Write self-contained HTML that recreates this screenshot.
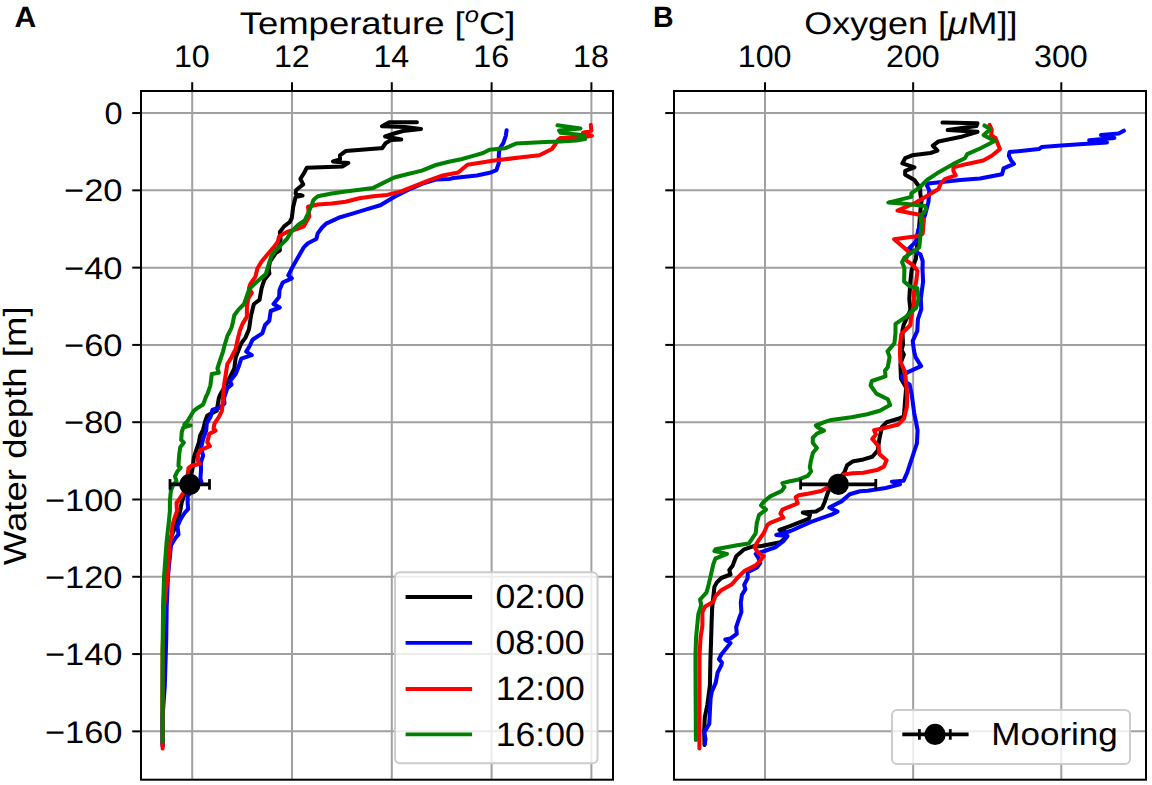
<!DOCTYPE html><html><head><meta charset="utf-8"><title>Temperature and oxygen profiles</title><style>html,body{margin:0;padding:0;background:#fff;overflow:hidden}svg{display:block}text{font-family:"Liberation Sans",sans-serif;fill:#000;text-rendering:geometricPrecision}</style></head><body>
<svg width="1152" height="785" viewBox="0 0 1152 785">
<rect width="1152" height="785" fill="#fff"/>
<defs><clipPath id="cl"><rect x="141" y="91" width="472" height="688.7"/></clipPath><clipPath id="cr"><rect x="674" y="91" width="472" height="688.7"/></clipPath></defs>
<g stroke="#a0a0a0" stroke-width="2" clip-path="url(#cl)"><line x1="192.20" y1="91" x2="192.20" y2="779.7"/><line x1="292.00" y1="91" x2="292.00" y2="779.7"/><line x1="391.80" y1="91" x2="391.80" y2="779.7"/><line x1="491.60" y1="91" x2="491.60" y2="779.7"/><line x1="591.40" y1="91" x2="591.40" y2="779.7"/><line x1="141" y1="113.05" x2="613" y2="113.05"/><line x1="141" y1="190.34" x2="613" y2="190.34"/><line x1="141" y1="267.63" x2="613" y2="267.63"/><line x1="141" y1="344.91" x2="613" y2="344.91"/><line x1="141" y1="422.20" x2="613" y2="422.20"/><line x1="141" y1="499.49" x2="613" y2="499.49"/><line x1="141" y1="576.78" x2="613" y2="576.78"/><line x1="141" y1="654.07" x2="613" y2="654.07"/><line x1="141" y1="731.35" x2="613" y2="731.35"/></g>
<g stroke="#a0a0a0" stroke-width="2" clip-path="url(#cr)"><line x1="765.00" y1="91" x2="765.00" y2="779.7"/><line x1="913.15" y1="91" x2="913.15" y2="779.7"/><line x1="1061.30" y1="91" x2="1061.30" y2="779.7"/><line x1="674" y1="113.05" x2="1146" y2="113.05"/><line x1="674" y1="190.34" x2="1146" y2="190.34"/><line x1="674" y1="267.63" x2="1146" y2="267.63"/><line x1="674" y1="344.91" x2="1146" y2="344.91"/><line x1="674" y1="422.20" x2="1146" y2="422.20"/><line x1="674" y1="499.49" x2="1146" y2="499.49"/><line x1="674" y1="576.78" x2="1146" y2="576.78"/><line x1="674" y1="654.07" x2="1146" y2="654.07"/><line x1="674" y1="731.35" x2="1146" y2="731.35"/></g>
<g fill="none" stroke-width="4.05" stroke-linejoin="round" stroke-linecap="round" clip-path="url(#cl)">
<polyline stroke="#000" points="416.9,122.3 389.3,122.3 382.0,126.2 405.0,127.0 421.0,129.1 403.0,131.0 395.0,133.2 385.1,136.4 401.2,139.5 391.1,139.9 385.6,143.3 382.1,148.2 380.3,148.3 345.6,151.1 340.0,155.3 340.0,159.4 333.0,161.5 348.3,162.9 342.8,166.4 306.7,167.8 303.9,173.3 300.4,178.9 303.2,184.4 296.2,190.0 295.6,193.5 302.5,195.6 295.6,197.0 293.2,206.8 291.8,218.0 289.7,222.2 284.1,226.4 279.9,232.0 280.6,239.0 279.2,244.6 279.9,250.2 275.7,253.0 270.0,261.5 268.7,268.5 269.4,273.4 264.4,279.7 261.6,288.1 259.5,299.8 253.9,304.0 251.1,315.2 249.0,329.2 245.5,337.6 241.3,343.2 238.5,350.2 235.7,357.2 234.3,368.5 230.1,376.9 224.0,388.0 220.0,395.0 218.8,398.3 216.7,410.8 212.5,412.9 207.3,415.5 205.2,421.2 203.1,429.6 200.0,435.8 199.0,442.1 196.9,448.3 193.8,457.7 192.8,467.1 191.8,472.2 188.0,484.0 183.6,496.7 181.6,502.8 180.6,508.9 179.6,513.0 176.0,525.0 172.0,535.0 168.0,545.0 166.0,560.0 164.5,580.0 163.5,610.0 163.0,650.0 162.6,700.0 162.6,746.0"/>
<polyline stroke="#0000ff" points="506.6,130.3 505.8,135.8 503.4,142.8 499.5,149.0 498.8,155.3 498.8,163.1 496.4,170.2 490.9,172.5 476.9,175.6 453.4,178.0 450.0,178.9 435.8,179.6 421.9,183.8 408.0,190.0 394.2,196.9 380.3,205.3 366.4,209.4 352.5,213.6 338.6,217.8 326.1,223.6 321.9,227.8 317.7,233.4 316.3,239.0 307.9,243.2 303.7,247.4 298.1,257.3 292.5,267.1 288.3,275.5 291.8,278.3 282.7,282.5 279.5,290.0 279.1,297.0 273.5,304.0 279.8,307.5 270.7,311.0 269.3,320.8 265.1,325.0 262.3,333.4 252.5,339.7 249.7,346.0 246.2,351.6 251.8,355.1 241.3,358.7 238.5,367.1 235.7,374.1 230.1,381.1 231.5,384.6 227.3,388.1 224.0,398.3 224.5,403.5 219.8,407.7 212.5,409.8 210.4,417.1 206.8,423.3 206.2,430.6 203.1,439.0 201.0,448.3 203.1,455.6 201.0,462.0 201.0,470.2 200.4,478.3 201.5,482.4 194.0,490.0 187.7,495.7 187.7,503.8 188.2,508.9 184.6,513.0 180.6,519.1 177.5,526.2 178.5,534.4 175.5,538.0 171.0,545.3 168.0,575.9 166.7,606.5 166.2,640.0 164.8,685.8 162.6,716.0 162.6,745.0"/>
<polyline stroke="#ff0000" points="590.8,124.9 591.4,130.6 583.0,132.7 591.9,135.8 581.5,137.4 560.6,137.9 558.0,140.0 555.4,144.2 551.9,149.0 539.4,155.3 523.8,156.9 492.5,160.8 467.5,164.7 458.1,172.5 442.8,175.4 428.9,180.3 415.0,185.8 401.1,191.4 387.2,194.9 373.3,196.2 359.4,198.3 345.6,201.8 331.7,203.6 317.8,204.6 308.0,206.7 309.3,216.6 303.7,226.4 298.1,228.5 286.9,232.0 279.2,236.2 277.8,241.8 273.6,247.4 268.7,253.0 261.6,261.5 257.4,268.5 255.3,276.9 250.4,283.9 249.0,288.1 251.8,293.0 248.3,298.4 246.9,306.8 246.9,316.6 242.7,323.6 239.9,330.6 237.8,339.0 235.7,348.8 231.5,357.2 227.3,364.3 225.8,374.1 224.4,382.5 223.5,390.0 222.9,400.4 221.9,410.8 218.8,417.1 214.6,423.3 213.5,428.5 215.6,430.6 209.4,433.8 207.3,442.1 209.9,446.2 201.0,449.9 197.9,454.6 197.9,460.8 200.0,464.0 191.7,465.5 188.5,468.1 187.7,475.3 185.5,484.0 183.6,492.6 179.6,498.7 176.5,502.8 177.0,511.0 174.5,518.1 172.4,525.2 171.9,533.4 169.5,545.3 167.7,575.9 164.1,606.5 162.6,650.0 162.6,748.5"/>
<polyline stroke="#008000" points="557.5,125.2 580.4,128.5 559.1,130.6 560.6,132.7 583.5,135.3 585.1,139.0 576.2,140.5 560.6,141.6 545.0,142.1 515.9,143.6 505.0,148.3 489.4,149.8 483.1,153.0 472.2,156.1 461.2,159.2 450.0,161.5 435.8,165.0 421.9,170.6 408.0,174.0 394.2,177.5 380.3,184.4 373.3,187.9 345.6,191.4 331.7,193.5 317.8,196.2 313.6,199.7 312.1,204.0 307.9,213.8 304.4,220.8 298.1,225.0 291.1,232.0 286.9,239.0 281.3,244.6 275.7,250.2 271.5,255.8 268.7,264.3 265.8,274.1 256.0,282.5 249.3,289.0 244.1,304.0 238.5,309.6 234.3,315.2 232.9,322.2 231.5,327.8 227.3,336.2 224.4,346.0 223.0,351.6 220.2,360.0 217.4,368.5 218.8,372.7 211.8,374.1 210.4,385.3 207.6,393.7 206.2,396.2 203.1,404.6 197.9,407.7 193.8,410.8 190.6,416.0 187.5,421.2 184.4,424.4 190.6,425.4 183.3,427.5 181.8,431.7 181.2,440.0 183.9,442.6 180.2,447.3 179.2,454.6 178.6,462.9 178.5,466.1 180.6,467.6 177.5,471.2 175.0,476.3 176.5,481.4 173.4,484.5 170.9,490.6 169.9,500.8 169.9,511.0 168.9,521.1 167.8,531.3 166.6,542.0 164.1,575.9 163.1,606.5 162.6,650.0 162.6,742.0"/>
</g>
<g fill="none" stroke-width="4.05" stroke-linejoin="round" stroke-linecap="round" clip-path="url(#cr)">
<polyline stroke="#000" points="942.5,122.6 977.5,123.2 976.4,126.1 947.7,130.1 977.5,131.8 962.6,136.4 938.5,141.5 932.8,145.6 937.4,150.7 930.5,153.0 912.1,155.3 905.2,158.2 902.4,163.3 914.4,167.4 905.2,170.8 905.2,174.8 914.4,180.0 920.1,188.0 920.4,194.6 921.6,200.3 920.4,210.6 919.3,224.4 918.2,235.9 917.0,247.3 915.9,258.8 911.6,270.0 910.4,281.5 909.3,298.7 910.4,310.1 903.6,325.0 902.4,330.8 903.0,344.5 901.6,350.0 903.9,354.6 900.4,363.8 901.0,378.7 906.2,387.8 905.0,401.6 903.9,416.5 898.2,418.8 886.7,422.2 882.0,427.0 879.4,438.9 877.7,450.5 872.3,456.8 863.4,459.4 852.4,461.6 847.1,465.2 844.4,472.3 836.0,482.0 828.4,491.0 824.8,501.7 822.1,508.0 815.9,511.6 802.8,512.6 810.0,514.7 808.9,518.7 790.6,525.9 779.4,529.9 784.5,531.0 786.5,537.1 780.4,542.2 760.0,546.3 754.5,545.9 744.2,549.3 736.2,556.2 732.8,565.4 729.3,570.0 730.5,574.5 721.3,578.0 716.7,582.6 714.4,586.9 713.3,597.2 712.1,608.7 711.5,625.9 711.0,643.1 710.4,660.3 709.9,685.5 707.4,704.6 704.8,717.3 704.2,730.1 704.5,745.0"/>
<polyline stroke="#0000ff" points="1123.9,130.7 1118.7,133.6 1101.0,135.1 1114.3,138.0 1089.2,140.3 1106.9,142.5 1083.3,143.9 1061.2,145.4 1042.0,146.9 1039.0,149.1 1009.5,152.1 1008.8,155.7 1011.0,160.2 1013.9,163.9 1003.6,168.3 1002.1,174.2 980.0,178.6 960.3,180.0 928.2,183.4 927.0,185.7 929.3,190.3 928.5,201.5 925.0,215.2 918.2,230.1 915.9,241.6 909.0,248.5 920.4,254.2 922.7,261.1 922.5,270.0 923.1,281.5 920.8,298.7 921.3,309.0 917.9,319.3 917.3,330.8 912.7,341.1 913.9,350.3 915.4,356.9 921.1,366.1 908.5,371.8 901.6,376.4 903.9,381.0 909.6,384.4 911.9,395.9 914.2,413.1 916.5,424.5 917.6,430.3 916.9,443.4 912.4,456.8 907.1,472.8 903.5,480.8 891.9,481.7 900.0,484.4 885.7,488.0 867.8,490.7 860.0,491.2 849.7,494.3 841.5,501.4 829.3,507.5 837.5,511.6 831.4,514.7 811.0,521.8 790.6,531.0 776.3,535.0 787.5,536.1 783.4,541.2 775.3,547.3 766.0,550.5 755.7,553.9 758.0,557.3 760.3,563.1 756.8,567.7 747.7,572.2 747.7,578.0 744.2,584.9 745.4,589.2 741.9,594.9 740.8,602.9 741.4,612.1 738.5,620.1 736.2,627.0 736.8,633.9 730.5,638.5 725.3,639.6 730.5,643.1 725.9,648.8 721.3,654.5 719.0,659.1 721.9,662.6 721.4,665.1 717.6,672.7 715.7,682.9 711.8,691.8 710.6,698.2 709.9,711.0 709.3,723.7 704.2,732.6 705.5,739.0 704.8,744.0"/>
<polyline stroke="#ff0000" points="989.6,124.8 991.8,129.9 991.1,135.1 995.5,138.0 999.9,149.1 991.8,155.7 983.2,160.5 967.2,163.9 953.4,167.4 953.4,170.8 955.7,175.4 945.4,178.8 940.8,183.4 938.5,189.1 927.3,195.7 915.9,202.6 897.5,210.6 919.3,214.7 923.9,219.8 922.7,233.6 918.2,235.9 894.1,239.3 909.0,251.9 905.5,259.9 913.6,265.7 917.5,271.0 916.2,281.5 913.9,292.9 913.9,304.4 911.0,318.2 910.4,325.0 901.3,334.2 900.1,344.5 900.0,355.0 900.4,361.5 905.0,371.8 906.2,384.4 907.3,395.9 906.8,407.3 903.9,418.8 898.2,424.5 884.4,428.0 874.1,430.3 875.9,434.5 872.3,438.9 878.5,446.1 879.4,454.1 886.6,460.3 883.9,466.6 876.8,470.1 863.4,472.8 852.4,473.2 843.5,474.5 835.0,481.0 827.5,487.5 821.2,491.0 807.8,493.7 798.7,495.3 795.7,497.3 797.7,503.4 782.4,509.6 780.4,513.6 783.4,517.7 770.2,522.8 767.2,525.2 763.7,533.3 758.0,541.3 754.5,547.0 758.0,552.8 763.7,556.2 759.1,561.9 755.7,565.4 744.2,571.1 737.3,578.0 731.6,584.6 721.3,590.3 715.5,596.1 713.3,601.8 705.2,606.4 702.4,612.1 702.4,625.9 700.6,637.3 699.5,654.5 699.5,670.0 699.4,748.5"/>
<polyline stroke="#008000" points="984.4,125.5 990.3,129.2 983.7,135.1 994.8,141.0 980.0,148.5 967.2,154.2 964.9,158.2 953.4,163.9 945.4,168.5 937.4,173.1 927.0,180.0 919.0,188.0 911.3,193.4 911.3,196.9 888.3,202.6 904.4,203.8 925.0,206.1 926.2,209.5 920.4,216.4 921.6,224.4 920.4,235.9 919.3,247.3 904.4,257.6 902.1,262.2 904.4,268.0 904.1,281.5 909.3,286.1 917.3,288.3 918.5,298.7 916.2,307.8 910.4,312.4 905.9,317.0 895.5,323.9 895.5,333.1 894.4,343.4 887.5,351.4 889.6,356.9 887.8,367.2 885.0,370.6 885.5,376.4 871.8,381.0 870.6,385.5 876.4,393.6 887.8,399.3 890.1,405.0 879.8,410.8 867.2,414.2 851.5,417.3 831.2,419.9 825.0,421.9 815.9,425.5 817.9,427.5 824.0,430.6 816.9,433.6 812.8,437.7 812.8,442.8 816.9,447.9 812.8,453.0 810.8,461.2 809.8,467.3 811.0,471.4 807.8,475.9 798.9,479.4 790.0,481.2 782.4,483.1 784.5,487.1 781.4,491.2 770.2,496.3 763.1,502.4 761.0,505.5 766.1,509.6 759.1,514.9 756.8,522.9 755.7,533.3 751.1,540.1 748.8,543.6 737.3,545.3 715.5,549.3 714.4,551.0 727.0,553.9 715.5,558.5 713.3,564.2 711.0,574.5 708.1,586.9 706.4,592.6 700.1,599.5 701.2,605.2 698.3,614.4 697.2,625.9 696.1,637.3 695.5,654.5 695.5,670.0 695.9,740.0"/>
</g>
<g stroke="#000" fill="none"><line x1="170" y1="484.4" x2="209.5" y2="484.4" stroke-width="3.7"/><line x1="170" y1="479.09999999999997" x2="170" y2="489.7" stroke-width="2.8"/><line x1="209.5" y1="479.09999999999997" x2="209.5" y2="489.7" stroke-width="2.8"/></g><circle cx="189.9" cy="484.4" r="10.6" fill="#000"/>
<g stroke="#000" fill="none"><line x1="800.6" y1="484.3" x2="875.8" y2="484.3" stroke-width="3.7"/><line x1="800.6" y1="479.0" x2="800.6" y2="489.6" stroke-width="2.8"/><line x1="875.8" y1="479.0" x2="875.8" y2="489.6" stroke-width="2.8"/></g><circle cx="838.4" cy="484.3" r="10.6" fill="#000"/>
<rect x="141" y="91" width="472" height="688.7" fill="none" stroke="#000" stroke-width="2"/>
<rect x="674" y="91" width="472" height="688.7" fill="none" stroke="#000" stroke-width="2"/>
<g stroke="#000" stroke-width="2"><line x1="192.20" y1="91" x2="192.20" y2="82.25"/><line x1="292.00" y1="91" x2="292.00" y2="82.25"/><line x1="391.80" y1="91" x2="391.80" y2="82.25"/><line x1="491.60" y1="91" x2="491.60" y2="82.25"/><line x1="591.40" y1="91" x2="591.40" y2="82.25"/><line x1="765.00" y1="91" x2="765.00" y2="82.25"/><line x1="913.15" y1="91" x2="913.15" y2="82.25"/><line x1="1061.30" y1="91" x2="1061.30" y2="82.25"/><line x1="141" y1="113.05" x2="132.25" y2="113.05"/><line x1="674" y1="113.05" x2="665.25" y2="113.05"/><line x1="141" y1="190.34" x2="132.25" y2="190.34"/><line x1="674" y1="190.34" x2="665.25" y2="190.34"/><line x1="141" y1="267.63" x2="132.25" y2="267.63"/><line x1="674" y1="267.63" x2="665.25" y2="267.63"/><line x1="141" y1="344.91" x2="132.25" y2="344.91"/><line x1="674" y1="344.91" x2="665.25" y2="344.91"/><line x1="141" y1="422.20" x2="132.25" y2="422.20"/><line x1="674" y1="422.20" x2="665.25" y2="422.20"/><line x1="141" y1="499.49" x2="132.25" y2="499.49"/><line x1="674" y1="499.49" x2="665.25" y2="499.49"/><line x1="141" y1="576.78" x2="132.25" y2="576.78"/><line x1="674" y1="576.78" x2="665.25" y2="576.78"/><line x1="141" y1="654.07" x2="132.25" y2="654.07"/><line x1="674" y1="654.07" x2="665.25" y2="654.07"/><line x1="141" y1="731.35" x2="132.25" y2="731.35"/><line x1="674" y1="731.35" x2="665.25" y2="731.35"/></g>
<rect x="395" y="572.2" width="202.5" height="191" rx="5" ry="5" fill="#fff" fill-opacity="0.8" stroke="#cccccc" stroke-width="2"/>
<line x1="405.6" y1="597.0" x2="472.1" y2="597.0" stroke="#000" stroke-width="3.8" stroke-linecap="butt"/>
<line x1="405.6" y1="642.8" x2="472.1" y2="642.8" stroke="#0000ff" stroke-width="3.8" stroke-linecap="butt"/>
<line x1="405.6" y1="689.0" x2="472.1" y2="689.0" stroke="#ff0000" stroke-width="3.8" stroke-linecap="butt"/>
<line x1="405.6" y1="734.4" x2="472.1" y2="734.4" stroke="#008000" stroke-width="3.8" stroke-linecap="butt"/>
<rect x="892" y="710" width="238" height="54" rx="5" ry="5" fill="#fff" fill-opacity="0.8" stroke="#cccccc" stroke-width="2"/>
<g stroke="#000"><line x1="902.3" y1="734.4" x2="968.6" y2="734.4" stroke-width="3.7"/><line x1="919.4" y1="729.1" x2="919.4" y2="739.7" stroke-width="2.8"/><line x1="950.3" y1="729.1" x2="950.3" y2="739.7" stroke-width="2.8"/></g><circle cx="935.1" cy="734.4" r="10.6" fill="#000"/>
<text transform="matrix(0.3010,0,0,0.2943,14.45,26.56)" font-size="100" text-anchor="start" font-weight="bold">A</text>
<text transform="matrix(0.2854,0,0,0.2943,652.92,26.56)" font-size="100" text-anchor="start" font-weight="bold">B</text>
<text transform="matrix(0.3648,0,0,0.3123,239.67,33.81)" font-size="100" text-anchor="start" font-weight="normal">Temperature [<tspan font-style="italic" font-size="70" dy="-37">o</tspan><tspan dy="37">C]</tspan></text>
<text transform="matrix(0.3589,0,0,0.3128,804.30,34.08)" font-size="100" text-anchor="start" font-weight="normal">Oxygen [<tspan font-style="italic">μ</tspan>M]]</text>
<text transform="matrix(0,-0.3657,0.3204,0,26.47,565.17)" font-size="100">Water depth [m]</text>
<text transform="matrix(0.3502,0,0,0.3180,991.30,744.90)" font-size="100" text-anchor="start" font-weight="normal">Mooring</text>
<text transform="matrix(0.3218,0,0,0.3113,191.86,66.97)" font-size="100" text-anchor="middle" font-weight="normal">10</text>
<text transform="matrix(0.3218,0,0,0.3113,291.82,66.97)" font-size="100" text-anchor="middle" font-weight="normal">12</text>
<text transform="matrix(0.3218,0,0,0.3113,391.31,66.97)" font-size="100" text-anchor="middle" font-weight="normal">14</text>
<text transform="matrix(0.3218,0,0,0.3113,491.17,66.97)" font-size="100" text-anchor="middle" font-weight="normal">16</text>
<text transform="matrix(0.3218,0,0,0.3113,590.99,66.97)" font-size="100" text-anchor="middle" font-weight="normal">18</text>
<text transform="matrix(0.3218,0,0,0.3113,764.61,66.97)" font-size="100" text-anchor="middle" font-weight="normal">100</text>
<text transform="matrix(0.3218,0,0,0.3113,912.85,66.97)" font-size="100" text-anchor="middle" font-weight="normal">200</text>
<text transform="matrix(0.3218,0,0,0.3113,1060.91,66.97)" font-size="100" text-anchor="middle" font-weight="normal">300</text>
<text transform="matrix(0.3245,0,0,0.3118,122.45,124.20)" font-size="100" text-anchor="end" font-weight="normal">0</text>
<text transform="matrix(0.3444,0,0,0.3118,122.49,201.49)" font-size="100" text-anchor="end" font-weight="normal">−20</text>
<text transform="matrix(0.3444,0,0,0.3118,122.49,278.78)" font-size="100" text-anchor="end" font-weight="normal">−40</text>
<text transform="matrix(0.3444,0,0,0.3118,122.49,356.07)" font-size="100" text-anchor="end" font-weight="normal">−60</text>
<text transform="matrix(0.3444,0,0,0.3118,122.49,433.35)" font-size="100" text-anchor="end" font-weight="normal">−80</text>
<text transform="matrix(0.3444,0,0,0.3118,122.49,510.64)" font-size="100" text-anchor="end" font-weight="normal">−100</text>
<text transform="matrix(0.3444,0,0,0.3118,122.49,587.93)" font-size="100" text-anchor="end" font-weight="normal">−120</text>
<text transform="matrix(0.3444,0,0,0.3118,122.49,665.22)" font-size="100" text-anchor="end" font-weight="normal">−140</text>
<text transform="matrix(0.3444,0,0,0.3118,122.49,742.51)" font-size="100" text-anchor="end" font-weight="normal">−160</text>
<text transform="matrix(0.3550,0,0,0.3379,495.58,608.31)" font-size="100" text-anchor="start" font-weight="normal">02:00</text>
<text transform="matrix(0.3550,0,0,0.3379,495.58,654.11)" font-size="100" text-anchor="start" font-weight="normal">08:00</text>
<text transform="matrix(0.3550,0,0,0.3379,495.86,700.31)" font-size="100" text-anchor="start" font-weight="normal">12:00</text>
<text transform="matrix(0.3550,0,0,0.3379,495.86,745.71)" font-size="100" text-anchor="start" font-weight="normal">16:00</text>
</svg></body></html>
